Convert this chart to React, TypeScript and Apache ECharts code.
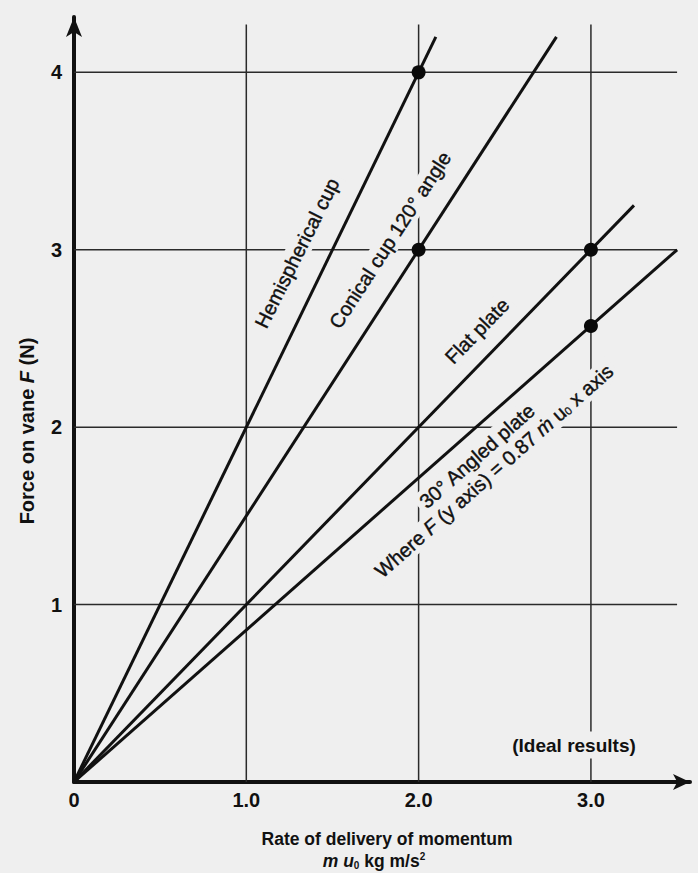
import React, { useEffect, useRef } from 'react';
import * as echarts from 'echarts';

// ---- data ----
const xTicks = [0, 1, 2, 3];
const xTickLabels = ['0', '1.0', '2.0', '3.0'];
const yTicks = [1, 2, 3, 4];
const yTickLabels = ['1', '2', '3', '4'];

const hemisphericalCup = [[0, 0], [2.1, 4.2]];
const conicalCup = [[0, 0], [2.8, 4.2]];
const flatPlate = [[0, 0], [3.25, 3.25]];
const angledPlate = [[0, 0], [3.5, 3.0]];
const resultPoints = [[2, 4], [2, 3], [3, 3], [3, 2.57]];

const gridXEnd = 3.5;
const gridYEnd = 4.27;

const FONT = 'Liberation Sans, Arial, Helvetica, sans-serif';
const INK = '#111111';
const BG = '#efefef';

function font(size: number, weight = 'normal', style = 'normal') {
  return { fontSize: size, fontWeight: weight, fontStyle: style, fontFamily: FONT, fill: INK };
}

export default function App() {
  const ref = useRef<HTMLDivElement>(null);
  useEffect(() => {
    if (!ref.current) return;
    const chart = echarts.init(ref.current, null, { renderer: 'svg' });

    const gridSeries: any[] = [
      ...yTicks.map((v) => ({
        type: 'line', data: [[0, v], [gridXEnd, v]], symbol: 'none', silent: true, z: 1,
        lineStyle: { color: '#2a2a2a', width: 1.5 },
      })),
      ...xTicks.filter((v) => v > 0).map((v) => ({
        type: 'line', data: [[v, 0], [v, gridYEnd]], symbol: 'none', silent: true, z: 1,
        lineStyle: { color: '#2a2a2a', width: 1.5 },
      })),
    ];

    const dataLine = (name: string, data: number[][]) => ({
      name, type: 'line', data, symbol: 'none', z: 5,
      lineStyle: { color: '#111', width: 3 },
    });

    const labelText = (x: number, y: number, deg: number, text: string, rich?: any) => ({
      type: 'text', x, y, rotation: (deg * Math.PI) / 180, z: 3,
      style: {
        text, ...font(20), align: 'center', verticalAlign: 'middle',
        stroke: INK, lineWidth: 0.4,
        backgroundColor: BG, padding: [2, 4],
        rich,
      },
    });

    chart.setOption({
      animation: false,
      backgroundColor: BG,
      grid: { left: 74, right: 8, top: 17, bottom: 91, containLabel: false },
      xAxis: {
        type: 'value', min: 0, max: 3.575, interval: 1,
        axisLine: { show: true, symbol: ['none', 'arrow'], symbolSize: [12, 17], lineStyle: { color: '#111', width: 4 } },
        axisTick: { show: false },
        splitLine: { show: false },
        axisLabel: {
          showMaxLabel: false, margin: 8, fontSize: 20, fontWeight: 'bold', fontFamily: FONT, color: INK,
          formatter: (v: number) => { const i = xTicks.indexOf(v); return i >= 0 ? xTickLabels[i] : ''; },
        },
      },
      yAxis: {
        type: 'value', min: 0, max: 4.312, interval: 1,
        axisLine: { show: true, symbol: ['none', 'arrow'], symbolSize: [12, 20], lineStyle: { color: '#111', width: 4 } },
        axisTick: { show: false },
        splitLine: { show: false },
        axisLabel: {
          showMinLabel: false, showMaxLabel: false, margin: 12, fontSize: 20, fontWeight: 'bold', fontFamily: FONT, color: INK,
          padding: [6, 0, 0, 0],
          formatter: (v: number) => { const i = yTicks.indexOf(v); return i >= 0 ? yTickLabels[i] : ''; },
        },
      },
      series: [
        ...gridSeries,
        dataLine('Hemispherical cup', hemisphericalCup),
        dataLine('Conical cup 120° angle', conicalCup),
        dataLine('Flat plate', flatPlate),
        dataLine('30° Angled plate', angledPlate),
        {
          type: 'scatter', data: resultPoints, symbol: 'circle', symbolSize: 14, z: 6,
          itemStyle: { color: '#0a0a0a', opacity: 1 },
        },
      ],
      graphic: [
        {
          type: 'text', x: 27, y: 431, rotation: Math.PI / 2, z: 3,
          style: {
            text: '{b|Force on vane }{i|F}{b| (N)}', ...font(20, 'bold'), align: 'center', verticalAlign: 'middle',
            rich: { b: font(20, 'bold'), i: font(20, 'bold', 'italic') },
          },
        },
        {
          type: 'text', x: 387, y: 839, z: 3,
          style: { text: 'Rate of delivery of momentum', ...font(17.5, 'bold'), align: 'center', verticalAlign: 'middle' },
        },
        {
          type: 'text', x: 374, y: 861, z: 3,
          style: {
            text: '{i|m u}{sub|0}{b| kg m/s}{sup|2}', ...font(17.5, 'bold'), align: 'center', verticalAlign: 'middle',
            rich: {
              i: font(17.5, 'bold', 'italic'),
              b: font(17.5, 'bold'),
              sub: { ...font(10, 'bold'), padding: [9, 0, 0, 0] },
              sup: { ...font(10, 'bold'), padding: [0, 0, 9, 0] },
            },
          },
        },
        {
          type: 'text', x: 574, y: 745, z: 3,
          style: { text: '(Ideal results)', ...font(19, 'bold'), align: 'center', verticalAlign: 'middle', backgroundColor: BG, padding: [4, 4] },
        },
        labelText(297, 253, 63.5, 'Hemispherical cup'),
        labelText(390, 240, 57, 'Conical cup 120° angle'),
        labelText(477, 331, 45.8, 'Flat plate'),
        labelText(477, 456, 41.5, '30° Angled plate'),
        labelText(494, 471, 41.5, '{n|Where }{i|F}{n| (y axis) = 0.87 }{i|ṁ}{n| u}{sub|0}{n| x axis}', {
          n: { ...font(20), stroke: INK, lineWidth: 0.4 },
          i: { ...font(20, 'normal', 'italic'), stroke: INK, lineWidth: 0.4 },
          sub: { ...font(11), stroke: INK, lineWidth: 0.3, padding: [8, 0, 0, 0] },
        }),
      ],
    });
    return () => chart.dispose();
  }, []);

  return (
    <div
      ref={ref}
      style={{ position: 'fixed', left: 0, top: 0, width: 698, height: 873, background: BG }}
    />
  );
}
